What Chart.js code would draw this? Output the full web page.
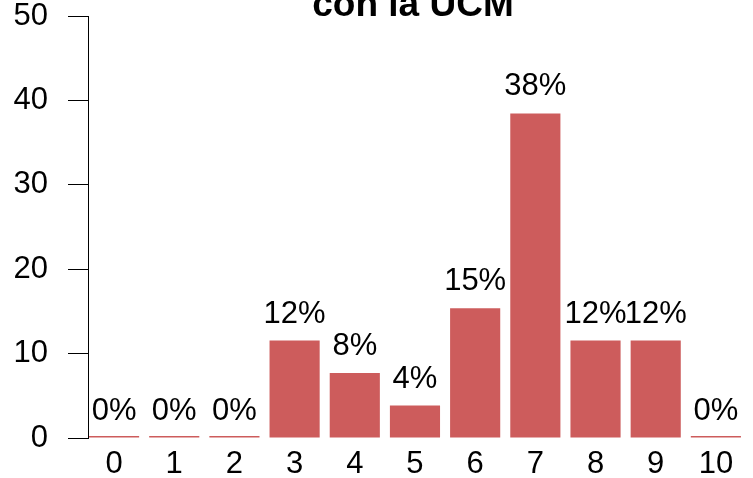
<!DOCTYPE html>
<html>
<head>
<meta charset="utf-8">
<script src="https://cdn.jsdelivr.net/npm/chart.js@4/dist/chart.umd.min.js"></script>
<style>
html, body { margin: 0; padding: 0; background: #fff; }
</style>
</head>
<body>
<canvas id="chart" width="753" height="478"></canvas>
<script>
// notas 0..10 y porcentaje de alumnos
var categories = [0, 1, 2, 3, 4, 5, 6, 7, 8, 9, 10];
var percents = [0, 0, 0, 11.54, 7.69, 3.85, 15.38, 38.46, 11.54, 11.54, 0];
var yTicks = [0, 10, 20, 30, 40, 50];
var titleText = "con la UCM";

var FONT = "'Liberation Sans', Arial, sans-serif";
var barColor = "#CD5C5C";

var points = categories.map(function (c, i) {
    return { x: c, y: percents[i] };
});

// etiquetas de porcentaje encima de cada barra + titulo recortado arriba
var barLabels = {
    id: "barLabels",
    afterDatasetsDraw: function (chart) {
        var ctx = chart.ctx;
        var meta = chart.getDatasetMeta(0);
        ctx.save();
        ctx.fillStyle = "#000";
        ctx.font = "31px " + FONT;
        ctx.textAlign = "center";
        ctx.textBaseline = "alphabetic";
        meta.data.forEach(function (bar, i) {
            var y = chart.scales.y.getPixelForValue(percents[i]);
            ctx.fillText(Math.round(percents[i]) + "%", bar.x, y - 18);
        });
        ctx.font = "bold 37px " + FONT;
        ctx.fillText(titleText, 413, 16);
        ctx.restore();
    }
};

var ctx = document.getElementById("chart").getContext("2d");
var chart = new Chart(ctx, {
    type: "bar",
    data: {
        datasets: [{
            data: points,
            backgroundColor: barColor,
            borderWidth: 0,
            barPercentage: 0.833,
            categoryPercentage: 1,
            minBarLength: 2
        }]
    },
    options: {
        responsive: false,
        animation: false,
        devicePixelRatio: 1,
        layout: { padding: { top: 16, right: 1, left: 0, bottom: 0 } },
        plugins: {
            legend: { display: false },
            tooltip: { enabled: false },
            title: { display: false }
        },
        scales: {
            x: {
                type: "linear",
                offset: false,
                min: -0.433,
                max: 10.6,
                grid: { display: false, drawTicks: false },
                border: { display: false },
                afterFit: function (scale) {
                    scale.height = 40;
                    scale.paddingLeft = 0;
                    scale.paddingRight = 0;
                },
                afterBuildTicks: function (scale) {
                    scale.ticks = categories.map(function (c) { return { value: c }; });
                },
                ticks: {
                    autoSkip: false,
                    maxRotation: 0,
                    padding: 8,
                    color: "#000",
                    font: { family: FONT, size: 31 },
                    callback: function (v) { return String(v); }
                }
            },
            y: {
                min: 0,
                max: 50,
                afterFit: function (scale) {
                    scale.width = 88;
                    scale.paddingTop = 0;
                    scale.paddingBottom = 0;
                },
                afterBuildTicks: function (scale) {
                    scale.ticks = yTicks.map(function (t) { return { value: t }; });
                },
                grid: {
                    drawOnChartArea: false,
                    drawTicks: true,
                    tickLength: 20,
                    color: "#000",
                    lineWidth: 1
                },
                border: { display: true, color: "#000", width: 1 },
                ticks: {
                    padding: 20,
                    color: "#000",
                    font: { family: FONT, size: 31 }
                }
            }
        }
    },
    plugins: [barLabels]
});
</script>
</body>
</html>
